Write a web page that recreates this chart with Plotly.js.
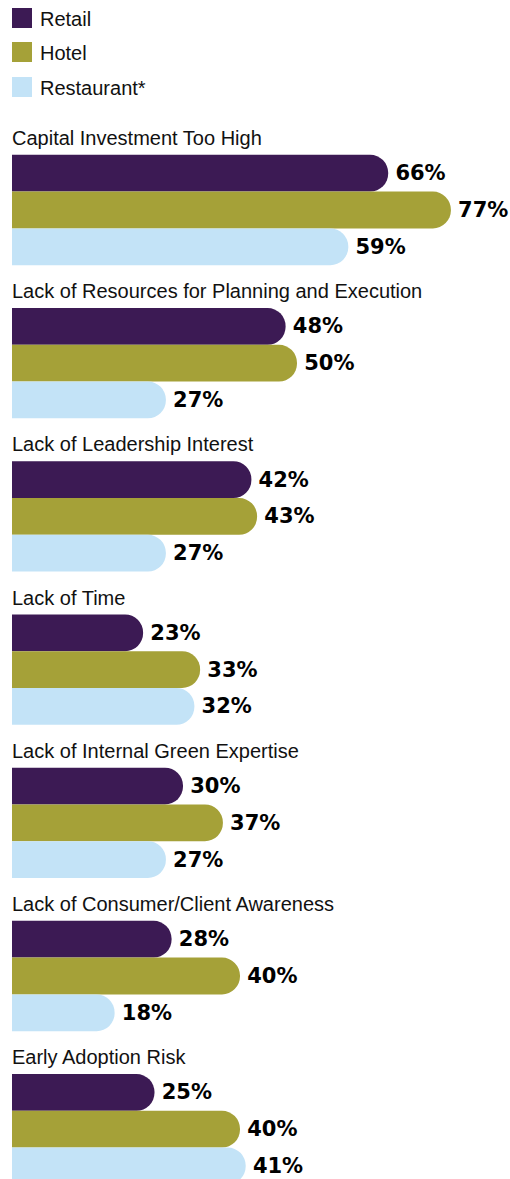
<!DOCTYPE html>
<html>
<head>
<meta charset="utf-8">
<script src="https://cdn.plot.ly/plotly-3.0.1.min.js"></script>
<style>html,body{margin:0;padding:0;background:#fff;}#chart{width:510px;height:1179px;}</style>
</head>
<body>
<div id="chart"></div>
<script>
const categories = [
  'Capital Investment Too High',
  'Lack of Resources for Planning and Execution',
  'Lack of Leadership Interest',
  'Lack of Time',
  'Lack of Internal Green Expertise',
  'Lack of Consumer/Client Awareness',
  'Early Adoption Risk'
];
const seriesNames = ['Retail', 'Hotel', 'Restaurant*'];
const retail = [66, 48, 42, 23, 30, 28, 25];
const hotel = [77, 50, 43, 33, 37, 40, 40];
const restaurant = [59, 27, 27, 32, 27, 18, 41];
const colors = ['#3c1a54', '#a5a138', '#c3e3f7'];

const W = 510, H = 1179, ML = 12;
const positions = categories.map((c, i) => i);
const seriesValues = [retail, hotel, restaurant];

const traces = seriesValues.map((vals, s) => ({
  type: 'bar',
  orientation: 'h',
  name: seriesNames[s],
  x: vals,
  y: positions,
  marker: {color: colors[s], cornerradius: 18, line: {width: 0}},
  texttemplate: '\u2009%{x}%',
  textposition: 'outside',
  constraintext: 'none',
  cliponaxis: false,
  textfont: {family: 'DejaVu Sans', size: 21, weight: 'bold', color: '#000'},
  showlegend: false,
  hoverinfo: 'skip'
}));

const px2py = p => 1 - p / H;
const px2px = p => (p - ML) / (W - ML);

const annotations = categories.map((c, i) => ({
  text: c,
  xref: 'paper', x: 0, xanchor: 'left', xshift: -2,
  yref: 'y', y: i - 0.47, yanchor: 'middle',
  showarrow: false,
  font: {family: 'Liberation Sans', size: 20, color: '#111'}
}));

const shapes = [];
const legendCenters = [18, 52, 87];
seriesNames.forEach((n, s) => {
  const c = legendCenters[s];
  shapes.push({
    type: 'rect', xref: 'paper', yref: 'paper',
    x0: px2px(12), x1: px2px(32), y0: px2py(c + 10), y1: px2py(c - 10),
    fillcolor: colors[s], line: {width: 0}
  });
  annotations.push({
    text: n, xref: 'paper', x: px2px(38), xanchor: 'left',
    yref: 'paper', y: px2py(c + 1), yanchor: 'middle',
    showarrow: false,
    font: {family: 'Liberation Sans', size: 20, color: '#111'}
  });
});

const k = 5.70;
const layout = {
  width: W, height: H,
  margin: {l: ML, r: 0, t: 0, b: 0, pad: 0},
  paper_bgcolor: '#fff', plot_bgcolor: '#fff',
  barmode: 'group', bargap: 0.28, bargroupgap: 0,
  xaxis: {range: [0, (W - ML) / k], visible: false, fixedrange: true},
  yaxis: {range: [(H - 210) / 153.2, -210 / 153.2], visible: false, fixedrange: true},
  annotations: annotations,
  shapes: shapes,
  showlegend: false,
  hovermode: false
};

Plotly.newPlot('chart', traces, layout, {staticPlot: true, displayModeBar: false});
</script>
</body>
</html>
